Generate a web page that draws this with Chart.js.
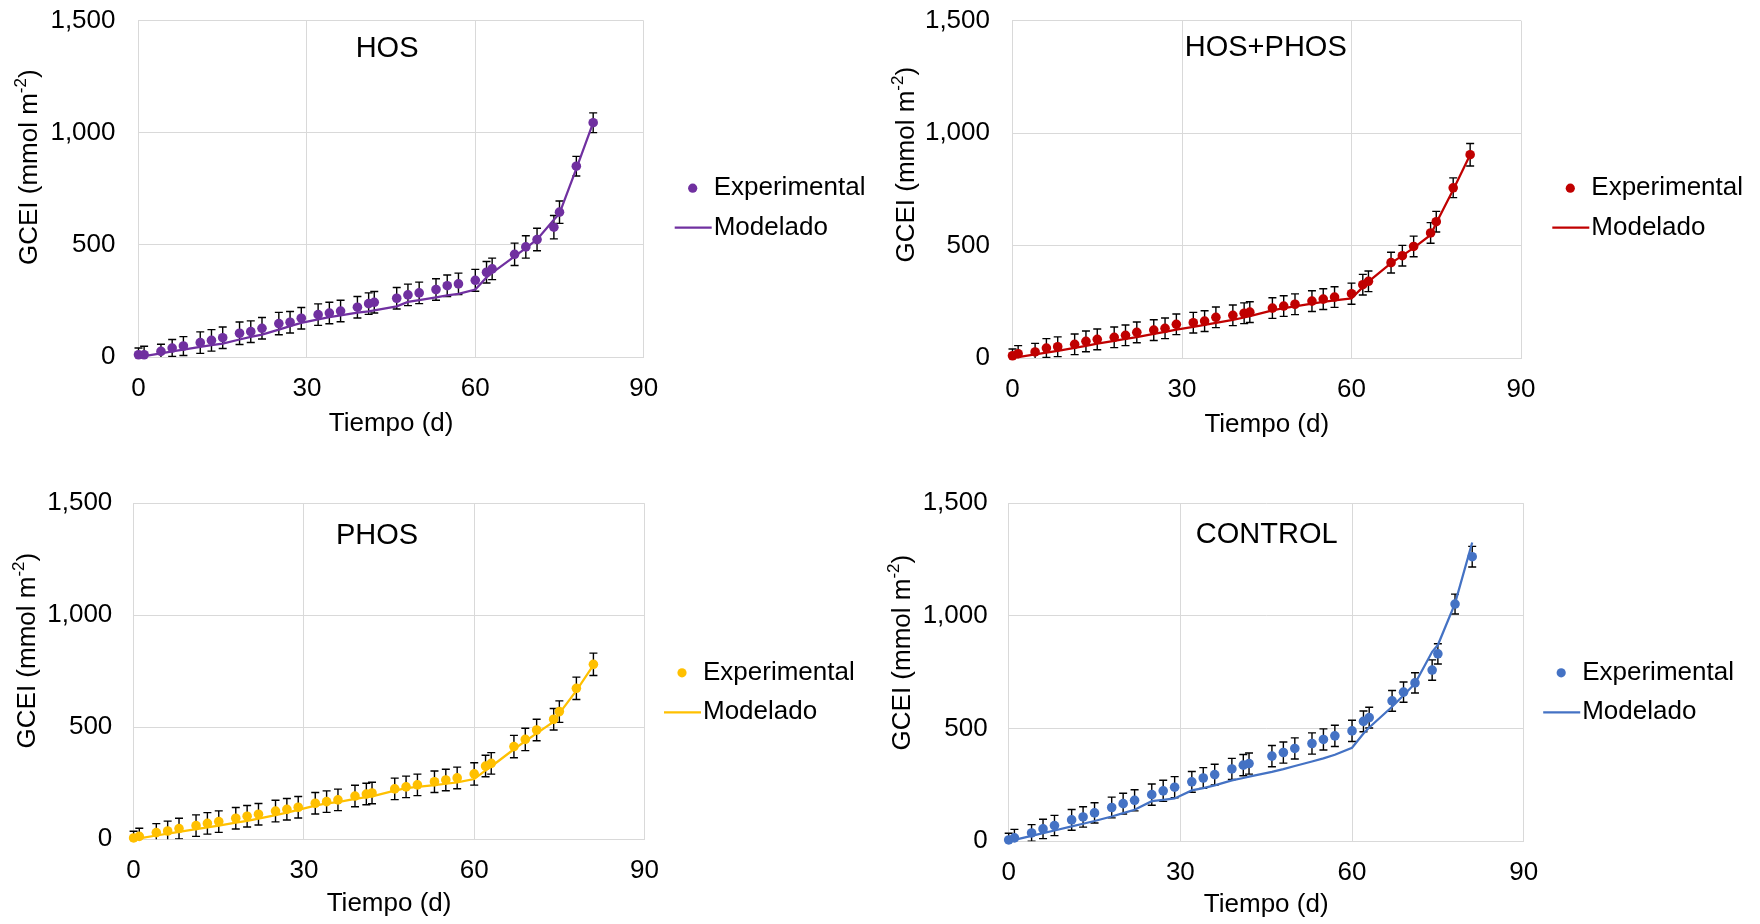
<!DOCTYPE html>
<html><head><meta charset="utf-8">
<script src="https://cdn.jsdelivr.net/npm/chart.js@4.4.1/dist/chart.umd.min.js"></script>
<style>
html,body{margin:0;padding:0;background:#fff;}
body{width:1760px;height:924px;position:relative;overflow:hidden;}
.panel{position:absolute;width:880px;height:462px;}
canvas{display:block;}
</style></head><body>
<div class="panel" style="left:0px;top:0px"><canvas id="c0" width="880" height="462"></canvas></div>
<div class="panel" style="left:880px;top:0px"><canvas id="c1" width="880" height="462"></canvas></div>
<div class="panel" style="left:0px;top:462px"><canvas id="c2" width="880" height="462"></canvas></div>
<div class="panel" style="left:880px;top:462px"><canvas id="c3" width="880" height="462"></canvas></div>
<script>
// ---------- data ----------
const days = [0,1,4,6,8,11,13,15,18,20,22,25,27,29,32,34,36,39,41,42,46,48,50,53,55,57,60,62,63,67,69,71,74,75,78,81];

const hosExp = [10,10,25,40,49,64,74,86,106,113,128,149,155,173,189,196,205,222,238,244,262,277,286,301,318,326,342,378,393,458,491,524,579,646,851,1045];
const hosMod = [0,4,16,25,33,45,53,60,78,90,100,122,138,152,168,178,186,198,204,208,226,246,254,266,275,282,301,355,375,449,486,524,612,640,840,1045];
const hosErr = [30,38,32,38,42,48,48,48,50,48,48,50,48,48,48,48,48,48,48,48,48,48,48,48,48,48,49,48,48,50,50,50,52,50,44,44];

const hpExp = [10,19,27,44,50,61,74,83,92,101,114,124,132,150,157,164,181,190,199,204,222,231,239,253,262,271,286,326,341,424,455,496,556,606,757,904];
const hpMod = [0,4,16,24,32,45,54,64,76,85,93,107,116,126,138,147,156,170,180,186,212,222,230,242,250,256,265,315,340,422,455,490,547,600,748,904];
const hpErr = [30,36,38,42,44,46,46,46,46,46,46,46,46,46,46,46,46,46,46,46,46,46,46,46,46,46,47,46,46,46,46,46,46,46,44,50];

const phosExp = [6,13,30,37,48,61,71,79,94,103,112,126,134,143,161,168,176,193,202,207,225,234,243,257,265,274,292,327,339,414,446,488,536,570,674,781];
const phosMod = [0,4,17,25,33,45,53,61,74,82,92,108,119,131,150,160,166,180,188,192,217,228,234,242,248,254,269,308,325,402,438,473,525,562,664,778];
const phosErr = [30,36,40,44,46,48,48,48,48,48,48,48,48,48,48,48,48,48,48,48,48,48,48,48,48,48,50,48,48,50,50,48,48,48,50,50];

const ctrlExp = [6,15,37,55,70,95,108,126,150,167,182,207,224,240,264,281,296,321,338,345,378,394,412,434,452,468,490,532,549,623,662,703,760,832,1053,1263];
const ctrlMod = [0,6,24,36,48,66,78,90,110,125,140,178,184,190,226,236,248,270,281,287,308,320,334,354,368,384,415,478,505,597,648,700,841,871,1056,1326];
const ctrlErr = [30,38,37,43,45,46,45,45,46,46,47,47,47,47,46,46,46,47,47,47,47,47,47,47,47,47,47,46,46,46,45,45,45,45,44,46];

const panelTitles = ['HOS','HOS+PHOS','PHOS','CONTROL'];
const seriesNames = ['Experimental','Modelado'];
const xTitle = 'Tiempo (d)';
const yTitleParts = ['GCEI (mmol m','-2',')'];
const xTickValues = [0,30,60,90];
const yTickValues = [0,500,1000,1500];

// ---------- style / layout ----------
const FONT = '"Liberation Sans", Arial, Helvetica, sans-serif';
Chart.defaults.font.family = FONT;
Chart.defaults.color = '#000';

const panels = [
  {exp:hosExp, mod:hosMod, err:hosErr, color:'#7030A0',
   L:138.5, R:643.7, T:20.7, B:357, yPad:23, xPadB:23,
   tDx:-4, tDy:28, yDx:-109, yDy:146.5, lgDx:31, lgDy:0},
  {exp:hpExp, mod:hpMod, err:hpErr, color:'#C00000',
   L:132.5, R:641, T:20.7, B:358, yPad:22.5, xPadB:22,
   tDx:-1, tDy:27, yDx:-106, yDy:144, lgDx:31.3, lgDy:0},
  {exp:phosExp, mod:phosMod, err:phosErr, color:'#FFC000',
   L:133.6, R:644.5, T:41.3, B:377.3, yPad:21.3, xPadB:4.7,
   tDx:-12, tDy:32.5, yDx:-106, yDy:147.3, lgDx:19.5, lgDy:2},
  {exp:ctrlExp, mod:ctrlMod, err:ctrlErr, color:'#4472C4',
   L:128.7, R:643.7, T:41.3, B:379.3, yPad:21, xPadB:3.3,
   tDx:0.5, tDy:31.7, yDx:-106, yDy:149.3, lgDx:19.5, lgDy:2}
];
const CW = 880, CH = 462, YW = 90;

// ---------- plugins ----------
const errBars = {
  id:'errBars',
  beforeDatasetsDraw(chart, args, o){
    const {ctx, chartArea:ca, scales:{x, y}} = chart;
    const ds = chart.data.datasets[0];
    ctx.save();
    ctx.beginPath();
    ctx.rect(ca.left - 30, 0, ca.width + 60, ca.bottom);
    ctx.clip();
    ctx.strokeStyle = '#000';
    ctx.lineWidth = 1.4;
    ds.data.forEach((p, i) => {
      const px = x.getPixelForValue(p.x);
      const y1 = y.getPixelForValue(p.y + o.errors[i]);
      const y2 = y.getPixelForValue(p.y - o.errors[i]);
      ctx.beginPath();
      ctx.moveTo(px, y1); ctx.lineTo(px, y2);
      ctx.moveTo(px - 4, y1); ctx.lineTo(px + 4, y1);
      ctx.moveTo(px - 4, y2); ctx.lineTo(px + 4, y2);
      ctx.stroke();
    });
    ctx.restore();
  }
};

const decor = {
  id:'decor',
  afterDraw(chart, args, o){
    const {ctx, chartArea:ca} = chart;
    const ds = chart.data.datasets;
    ctx.save();
    // panel title inside plot
    ctx.fillStyle = '#000';
    ctx.font = '29px ' + FONT;
    ctx.textAlign = 'center';
    ctx.textBaseline = 'middle';
    ctx.fillText(o.title, (ca.left + ca.right) / 2 + o.tDx, ca.top + o.tDy);

    // y axis title (rotated, with superscript)
    ctx.save();
    ctx.translate(ca.left + o.yDx, ca.top + o.yDy);
    ctx.rotate(-Math.PI / 2);
    const fMain = '26px ' + FONT, fSup = '17px ' + FONT;
    ctx.font = fMain; const w0 = ctx.measureText(o.yParts[0]).width;
    const w2 = ctx.measureText(o.yParts[2]).width;
    ctx.font = fSup; const w1 = ctx.measureText(o.yParts[1]).width;
    let sx = -(w0 + w1 + w2) / 2;
    ctx.textAlign = 'left';
    ctx.textBaseline = 'middle';
    ctx.font = fMain; ctx.fillText(o.yParts[0], sx, 0); sx += w0;
    ctx.font = fSup; ctx.fillText(o.yParts[1], sx, -8.5); sx += w1;
    ctx.font = fMain; ctx.fillText(o.yParts[2], sx, 0);
    ctx.restore();

    // legend
    const L0 = ca.right + o.lgDx;
    const r1 = ca.top + 167.5 + o.lgDy, r2 = ca.top + 207 + o.lgDy;
    ctx.fillStyle = ds[0].backgroundColor;
    ctx.beginPath(); ctx.arc(L0 + 18, r1, 4.6, 0, Math.PI * 2); ctx.fill();
    ctx.strokeStyle = ds[1].borderColor; ctx.lineWidth = 2.25;
    ctx.beginPath(); ctx.moveTo(L0, r2); ctx.lineTo(L0 + 37, r2); ctx.stroke();
    ctx.fillStyle = '#000';
    ctx.font = '26px ' + FONT;
    ctx.textAlign = 'left'; ctx.textBaseline = 'middle';
    ctx.fillText(ds[0].label, L0 + 39, r1);
    ctx.fillText(ds[1].label, L0 + 39, r2);
    ctx.restore();
  }
};

// ---------- charts ----------
panels.forEach((p, k) => {
  const ctx = document.getElementById('c' + k);
  new Chart(ctx, {
    type:'scatter',
    data:{
      datasets:[
        {label:seriesNames[0], data:days.map((d,i)=>({x:d, y:p.exp[i]})),
         showLine:false, pointRadius:4.8, pointHoverRadius:4.8, pointBorderWidth:0,
         backgroundColor:p.color, borderColor:p.color, pointBackgroundColor:p.color,
         clip:false, order:1},
        {label:seriesNames[1], data:days.map((d,i)=>({x:d, y:p.mod[i]})),
         showLine:true, pointRadius:0, borderWidth:2.25, borderColor:p.color,
         backgroundColor:p.color, tension:0, clip:false, order:0}
      ]
    },
    options:{
      responsive:false, animation:false, events:[],
      layout:{padding:{left:p.L - YW, right:CW - p.R, top:p.T, bottom:0}},
      plugins:{
        legend:{display:false}, tooltip:{enabled:false}, title:{display:false},
        errBars:{errors:p.err},
        decor:{title:panelTitles[k], tDx:p.tDx, tDy:p.tDy, yDx:p.yDx, yDy:p.yDy,
               yParts:yTitleParts, lgDx:p.lgDx, lgDy:p.lgDy}
      },
      scales:{
        x:{type:'linear', min:xTickValues[0], max:xTickValues[xTickValues.length-1],
           afterBuildTicks:(s)=>{ s.ticks = xTickValues.map(v=>({value:v})); },
           afterFit:(s)=>{ s.height = CH - p.B; s.paddingLeft = 0; s.paddingRight = 0; },
           grid:{color:'#d9d9d9', lineWidth:1, drawTicks:false},
           border:{color:'#d9d9d9', width:1},
           ticks:{padding:16, font:{size:26}, color:'#000', maxRotation:0, autoSkip:false},
           title:{display:true, text:xTitle, font:{size:26}, color:'#000',
                  padding:{top:0, bottom:p.xPadB}}},
        y:{type:'linear', min:yTickValues[0], max:yTickValues[yTickValues.length-1],
           afterBuildTicks:(s)=>{ s.ticks = yTickValues.map(v=>({value:v})); },
           afterFit:(s)=>{ s.width = YW; s.paddingTop = 0; s.paddingBottom = 0; },
           grid:{color:'#d9d9d9', lineWidth:1, drawTicks:false},
           border:{color:'#d9d9d9', width:1},
           ticks:{padding:p.yPad, font:{size:26}, color:'#000',
                  callback:(v)=>v.toLocaleString('en-US')}}
      }
    },
    plugins:[errBars, decor]
  });
});
</script>
</body></html>
